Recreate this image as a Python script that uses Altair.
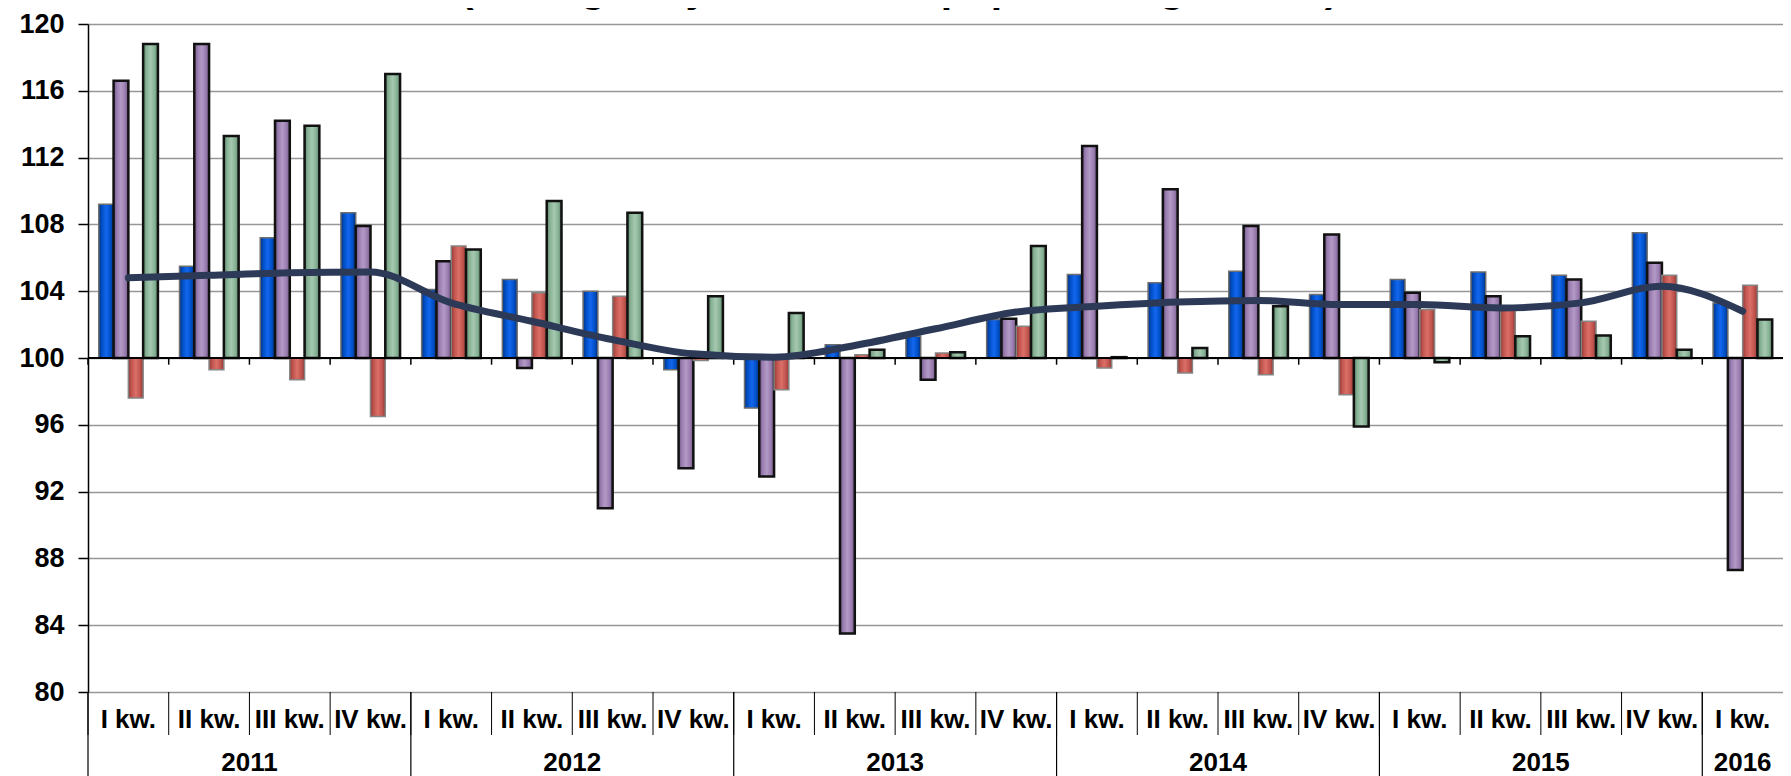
import altair as alt
import pandas as pd

# ---------------- data ----------------
YEARS = [2011] * 4 + [2012] * 4 + [2013] * 4 + [2014] * 4 + [2015] * 4 + [2016]
QUARTERS = ["I kw.", "II kw.", "III kw.", "IV kw."] * 5 + ["I kw."]

BLUE = [109.2, 105.5, 107.2, 108.7, 104.1, 104.7, 104.0, 99.3, 97.0, 100.8, 101.3,
        102.3, 105.0, 104.5, 105.2, 103.8, 104.7, 105.15, 104.95, 107.5, 103.3]
PURPLE = [116.6, 118.8, 114.2, 107.9, 105.8, 99.4, 91.0, 93.4, 92.9, 83.5, 98.7,
          102.35, 112.7, 110.1, 107.9, 107.4, 103.9, 103.7, 104.7, 105.7, 87.3]
RED = [97.6, 99.3, 98.7, 96.5, 106.7, 103.9, 103.7, 99.85, 98.1, 100.2, 100.3,
       101.9, 99.4, 99.1, 99.0, 97.8, 102.9, 103.0, 102.2, 104.95, 104.35]
GREEN = [118.8, 113.3, 113.9, 117.0, 106.5, 109.4, 108.7, 103.7, 102.7, 100.5, 100.35,
         106.7, 100.05, 100.6, 103.1, 95.9, 99.75, 101.3, 101.35, 100.5, 102.3]
LINE = [104.8, 104.95, 105.1, 105.15, 103.3, 102.2, 101.1, 100.25, 100.05, 100.75, 101.75,
        102.75, 103.1, 103.35, 103.45, 103.2, 103.2, 103.0, 103.3, 104.3, 102.8]

YEAR_LABELS = ["2011", "2012", "2013", "2014", "2015", "2016"]
Y_TICKS = [80, 84, 88, 92, 96, 100, 104, 108, 112, 116, 120]
TITLE = "(analogiczny okres roku poprzedniego = 100)"
SERIES = ["niebieski", "fioletowy", "czerwony", "zielony"]

# ---------------- tables ----------------
ids = [f"{y}|{q}" for y, q in zip(YEARS, QUARTERS)]
bars = pd.DataFrame(
    [{"q": i, "s": s, "v": v}
     for s, vals in zip(SERIES, [BLUE, PURPLE, RED, GREEN])
     for i, v in zip(ids, vals)]
)
line_df = pd.DataFrame({"q": ids, "v": LINE})
qdf = pd.DataFrame({"q": ids, "first": [q == "I kw." for q in QUARTERS]})
year_mid = pd.DataFrame({
    "q": [f"{y}|III kw." for y in YEAR_LABELS[:-1]],
    "t": YEAR_LABELS[:-1],
})
year_last = pd.DataFrame({"q": [f"{YEAR_LABELS[-1]}|I kw."], "t": [YEAR_LABELS[-1]]})
title_df = pd.DataFrame({"t": [TITLE]})

# ---------------- styling ----------------
W, H = 1695, 668
FONT = "Liberation Sans, Arial, sans-serif"

xscale = alt.Scale(domain=ids, paddingInner=0, paddingOuter=0)
xaxis = alt.Axis(
    title=None, labelExpr="split(datum.value, '|')[1]", labelAngle=0,
    labelFontSize=26, labelFontWeight="bold", labelColor="black", labelFont=FONT,
    labelBaseline="middle", labelPadding=27, ticks=False, tickSize=0,
    domain=False, grid=False,
)
yscale = alt.Scale(domain=[80, 120], nice=False, zero=False)
yaxis = alt.Axis(
    values=Y_TICKS, title=None, labelFontSize=27, labelFontWeight="bold",
    labelFont=FONT, labelColor="black", labelPadding=14, tickSize=10,
    tickColor="black", tickWidth=1.5, domainColor="black", domainWidth=1.5,
    gridColor="#979797", gridWidth=1.5,
)


def X(**kw):
    return alt.X("q:N", scale=xscale, axis=xaxis, sort=None, **kw)


def grad(edge, mid, light):
    return alt.LinearGradient(
        gradient="linear", x1=0, x2=1, y1=0, y2=0,
        stops=[
            alt.GradientStop(color=edge, offset=0),
            alt.GradientStop(color=mid, offset=0.22),
            alt.GradientStop(color=light, offset=0.5),
            alt.GradientStop(color=mid, offset=0.78),
            alt.GradientStop(color=edge, offset=1),
        ],
    )


STYLES = {
    "niebieski": (grad("#00307f", "#0050c8", "#1467ee"), "#6e6e6e", 1.5),
    "fioletowy": (grad("#6f5584", "#9a7db0", "#b39ac6"), "#111111", 2.5),
    "czerwony": (grad("#8f3a35", "#c2554f", "#db7068"), "#858585", 1.5),
    "zielony": (grad("#5c8569", "#87b195", "#a5c9b0"), "#111111", 2.5),
}

layers = []
for s in SERIES:
    fill, stroke, sw = STYLES[s]
    layers.append(
        alt.Chart(bars).transform_filter(alt.datum.s == s)
        .mark_bar(color=fill, stroke=stroke, strokeWidth=sw)
        .encode(
            x=X(),
            xOffset=alt.XOffset("s:N", scale=alt.Scale(domain=SERIES, paddingInner=0, paddingOuter=0.73)),
            y=alt.Y("v:Q", scale=yscale, axis=yaxis),
            y2=alt.datum(100),
        )
    )

baseline = alt.Chart(title_df).mark_rule(color="black", strokeWidth=2).encode(y=alt.datum(100))
base_ticks = alt.Chart(qdf).mark_rule(color="black", strokeWidth=1.5).encode(
    x=X(bandPosition=0), y=alt.datum(100), y2=alt.datum(99.6)
)
line = alt.Chart(line_df).mark_line(
    color="#2d3a57", strokeWidth=7, interpolate="monotone", strokeCap="round", strokeJoin="round"
).encode(x=X(), y=alt.Y("v:Q", scale=yscale, axis=yaxis))

q_sep = alt.Chart(qdf).mark_rule(color="black", strokeWidth=1).encode(
    x=X(bandPosition=0), y=alt.value(H), y2=alt.value(H + 43)
)
y_sep = alt.Chart(qdf).transform_filter(alt.datum.first).mark_rule(color="black", strokeWidth=1.2).encode(
    x=X(bandPosition=0), y=alt.value(H), y2=alt.value(H + 84)
)
txt_kw = dict(fontSize=26, fontWeight="bold", font=FONT, color="black", baseline="middle", align="center")
years1 = alt.Chart(year_mid).mark_text(**txt_kw).encode(x=X(bandPosition=0), y=alt.value(H + 71), text="t:N")
years2 = alt.Chart(year_last).mark_text(**txt_kw).encode(x=X(bandPosition=0.5), y=alt.value(H + 71), text="t:N")
title = alt.Chart(title_df).mark_text(
    fontSize=41, fontWeight="bold", font=FONT, color="black", align="left", baseline="alphabetic"
).encode(x=alt.value(372), y=alt.value(-22), text="t:N")

chart = alt.layer(
    *layers, baseline, base_ticks, line, q_sep, y_sep, years1, years2, title
).properties(
    width=W, height=H,
    padding={"left": 80, "top": 16, "right": 0, "bottom": 84},
    autosize=alt.AutoSizeParams(type="none"),
    background="white",
).configure_view(stroke=None)

chart.save("out.html", embed_options={"renderer": "svg", "actions": False})
